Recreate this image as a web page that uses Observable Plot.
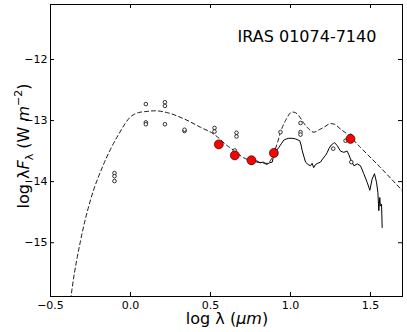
<!DOCTYPE html>
<html><head><meta charset="utf-8">
<script src="https://cdn.jsdelivr.net/npm/d3@7"></script>
<script src="https://cdn.jsdelivr.net/npm/@observablehq/plot@0.6"></script>
<style>body{margin:0;background:white}</style>
</head><body><div id="chart"></div>
<script>
// Model SED (dashed)
const modelX = [-0.38,-0.364,-0.3125,-0.25,-0.172,-0.073,0.0,0.05,0.104,0.156,0.229,0.333,0.4375,0.52,0.604,0.646,0.708,0.76,0.81,0.854,0.88,0.9,0.92,0.9375,0.969,1.01,1.03,1.052,1.08,1.104,1.146,1.18,1.208,1.25,1.275,1.3125,1.354,1.4375,1.5625,1.70];
const modelY = [-16.05,-15.73,-14.97,-14.30,-13.74,-13.22,-12.94,-12.87,-12.85,-12.84,-12.87,-12.97,-13.11,-13.22,-13.41,-13.49,-13.61,-13.66,-13.69,-13.70,-13.63,-13.50,-13.35,-13.19,-13.00,-12.86,-12.87,-12.92,-13.03,-13.11,-13.19,-13.15,-13.11,-13.05,-13.06,-13.14,-13.22,-13.44,-13.77,-14.15];
// Spectrum (solid)
const specX = [0.75,0.77,0.79,0.81,0.83,0.85,0.87,0.886,0.896,0.91,0.927,0.945,0.958,0.975,0.989,1.01,1.031,1.058,1.066,1.073,1.085,1.094,1.11,1.125,1.135,1.145,1.156,1.17,1.1875,1.20,1.219,1.23,1.24,1.255,1.27,1.275,1.292,1.3125,1.333,1.354,1.365,1.375,1.396,1.417,1.4375,1.458,1.479,1.496,1.51,1.525,1.5375,1.546,1.552,1.558,1.562,1.569,1.573];
const specY = [-13.64,-13.67,-13.66,-13.69,-13.68,-13.72,-13.69,-13.68,-13.55,-13.50,-13.44,-13.37,-13.32,-13.30,-13.29,-13.29,-13.30,-13.33,-13.40,-13.49,-13.60,-13.68,-13.72,-13.74,-13.70,-13.77,-13.72,-13.70,-13.68,-13.63,-13.57,-13.52,-13.46,-13.40,-13.37,-13.36,-13.41,-13.50,-13.52,-13.50,-13.56,-13.63,-13.74,-13.71,-13.74,-13.87,-14.01,-14.14,-13.96,-13.87,-14.01,-14.175,-14.475,-14.26,-14.40,-14.37,-14.75];
// Photometry (open circles)
const photX = [-0.1,-0.1,-0.1,0.096,0.096,0.096,0.215,0.215,0.215,0.3375,0.3375,0.525,0.525,0.6625,0.6625,0.652,0.756,0.9375,1.0625,1.0625,1.0625,1.267,1.344,1.375,1.38];
const photY = [-13.86,-13.91,-13.99,-12.73,-13.03,-13.06,-12.70,-12.76,-13.06,-13.17,-13.15,-13.12,-13.18,-13.20,-13.26,-13.49,-13.69,-13.19,-13.04,-13.19,-13.23,-13.46,-13.33,-13.25,-13.68];
// Fitted points (red)
const fitX = [0.552,0.652,0.756,0.896,1.375];
const fitY = [-13.39,-13.57,-13.65,-13.53,-13.30];
// Ticks
const xTicks = [-0.5,0.0,0.5,1.0,1.5];
const yTicks = [-15,-14,-13,-12];
const titleText = "IRAS 01074-7140";

const model = modelX.map((x,i)=>({x,y:modelY[i]}));
const spec = specX.map((x,i)=>({x,y:specY[i]}));
const phot = photX.map((x,i)=>({x,y:photY[i]}));
const fit = fitX.map((x,i)=>({x,y:fitY[i]}));

const W=407,H=332,mL=50,mR=5,mT=4,mB=36;
const pW=W-mL-mR, pH=H-mT-mB;
const svg = Plot.plot({
  width:W,height:H,marginLeft:mL,marginRight:mR,marginTop:mT,marginBottom:mB,
  style:{fontFamily:"DejaVu Sans",fontSize:"11px",background:"white",color:"black"},
  x:{domain:[-0.5,1.7]},
  y:{domain:[-15.88,-11.1]},
  marks:[
    Plot.line(model,{x:"x",y:"y",stroke:"black",strokeWidth:0.9,strokeDasharray:"4,3",curve:"monotone-x",clip:true}),
    Plot.line(spec,{x:"x",y:"y",stroke:"black",strokeWidth:1}),
    Plot.dot(phot,{x:"x",y:"y",r:1.8,fill:"white",stroke:"black",strokeWidth:0.8}),
    Plot.dot(fit,{x:"x",y:"y",r:4.5,fill:"red",stroke:"black",strokeWidth:0.6}),
    Plot.ruleX(xTicks,{x:d=>d,insetTop:pH-4,stroke:"black"}),
    Plot.ruleX(xTicks,{x:d=>d,insetBottom:pH-4,stroke:"black"}),
    Plot.ruleY(yTicks,{y:d=>d,insetRight:pW-4,stroke:"black"}),
    Plot.ruleY(yTicks,{y:d=>d,insetLeft:pW-4,stroke:"black"}),
    Plot.axisX(xTicks,{tickSize:0,tickPadding:5,tickFormat:d3.format(".1f"),label:null}),
    Plot.axisY(yTicks,{tickSize:0,tickPadding:3,tickFormat:d3.format("d"),label:null}),
    Plot.frame({stroke:"black"})
  ]
});
const s = d3.select(svg);
s.append("text").attr("x",307).attr("y",42).attr("text-anchor","middle")
  .attr("font-family","DejaVu Sans").attr("font-size",16).attr("fill","black").text(titleText);
const xl = s.append("text").attr("x",227).attr("y",324).attr("text-anchor","middle")
  .attr("font-family","DejaVu Sans").attr("font-size",16).attr("fill","black");
xl.append("tspan").text("log λ (");
xl.append("tspan").attr("font-style","italic").text("μm");
xl.append("tspan").text(")");
const yl = s.append("text").attr("transform","translate(29,146) rotate(-90)").attr("text-anchor","middle")
  .attr("font-family","DejaVu Sans").attr("font-size",16).attr("fill","black");
yl.append("tspan").text("log λ");
yl.append("tspan").attr("font-style","italic").text("F");
yl.append("tspan").attr("font-size",11).attr("dy",4).text("λ");
yl.append("tspan").attr("dy",-4).text(" (W ");
yl.append("tspan").attr("font-style","italic").text("m");
yl.append("tspan").attr("font-size",11).attr("dy",-7).text("−2");
yl.append("tspan").attr("dy",7).text(")");
document.getElementById("chart").appendChild(svg);
</script>
</body></html>
